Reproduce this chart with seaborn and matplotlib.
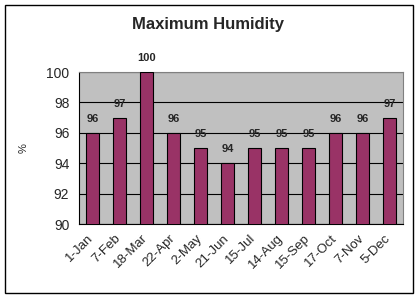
import matplotlib
matplotlib.use("Agg")
import matplotlib.pyplot as plt
import matplotlib.transforms as mtransforms
import seaborn as sns
import pandas as pd
from matplotlib.patches import Rectangle

categories = ["1-Jan", "7-Feb", "18-Mar", "22-Apr", "2-May", "21-Jun",
              "15-Jul", "14-Aug", "15-Sep", "17-Oct", "7-Nov", "5-Dec"]
values = [96, 97, 100, 96, 95, 94, 95, 95, 95, 96, 96, 97]
yticks = [90, 92, 94, 96, 98, 100]

sns.set_style("white")
plt.rcParams['font.family'] = ['Liberation Sans', 'DejaVu Sans']

df = pd.DataFrame({"date": categories, "hum": values})

W, H = 419, 298
fig = plt.figure(figsize=(W/100, H/100), dpi=100)
fig.patch.set_facecolor("white")
fig.add_artist(Rectangle((5/W, 5/H), 408/W, 288/H, transform=fig.transFigure,
                         fill=False, edgecolor="black", linewidth=1))

ax = fig.add_axes([79/W, 1 - 224/H, 324/W, 152/H])
ax.set_facecolor("#C0C0C0")
sns.barplot(data=df, x="date", y="hum", ax=ax, color="#993366",
            width=0.45, edgecolor="black", linewidth=0.8, saturation=1, zorder=3)
ax.set_ylim(90, 100)
ax.set_yticks(yticks)
ax.yaxis.grid(True, color="black", linewidth=0.8, zorder=0)
ax.set_axisbelow(True)
for s in ax.spines.values():
    s.set_color("#808080")
    s.set_linewidth(0.8)
ax.spines["bottom"].set_color("black")
ax.spines["left"].set_color("black")

for i, v in enumerate(values):
    ax.annotate(str(v), (i, v), xytext=(0, 6.5), textcoords="offset points",
                ha="center", va="bottom", fontsize=8, fontweight="bold",
                annotation_clip=False, zorder=5)

ax.tick_params(axis="y", labelsize=10, length=0, pad=7)
ax.tick_params(axis="x", labelsize=9.5, length=0, pad=6)
shift = mtransforms.ScaledTranslation(-5/100, 0, fig.dpi_scale_trans)
for lab in ax.get_xticklabels():
    lab.set_rotation(45)
    lab.set_ha("right")
    lab.set_rotation_mode("anchor")
    lab.set_transform(lab.get_transform() + shift)
ax.set_xlabel("")
ax.set_ylabel("%", fontsize=8)
ax.yaxis.set_label_coords((29 - 79) / 324, 0.5)
fig.text(208/W, 1 - 25/H, "Maximum Humidity", ha="center", va="center",
         fontsize=12, fontweight="bold")

fig.savefig("out.png", dpi=100)
